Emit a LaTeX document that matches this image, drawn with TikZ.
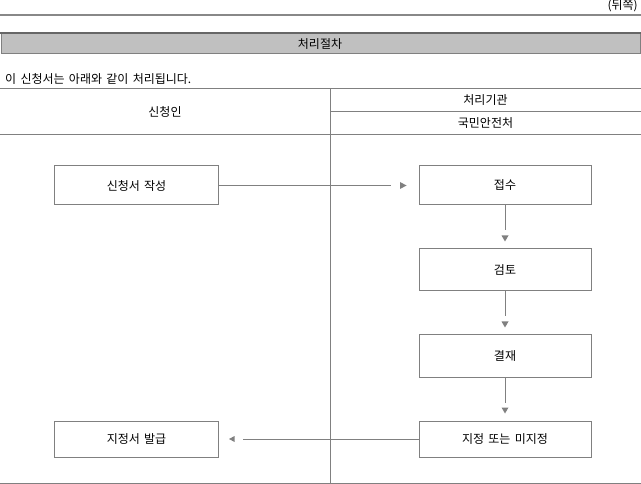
\documentclass[tikz,border=0pt]{standalone}
\usepackage{fontspec}
\setmainfont{Noto Sans CJK KR}[WordSpace={1.6}]
\definecolor{linegray}{HTML}{808080}
\definecolor{topgray}{HTML}{888888}
\definecolor{darkgray}{HTML}{666666}
\definecolor{bandgray}{HTML}{C0C0C0}
\begin{document}
\begin{tikzpicture}[x=1pt,y=-1pt,
  txt/.style={font=\fontsize{12pt}{14pt}\selectfont, inner sep=0pt},
  stepbox/.style={draw=linegray, line width=1pt, inner sep=0pt, font=\fontsize{12pt}{14pt}\selectfont},
  leftbox/.style={stepbox, minimum width=164pt},
  rightbox/.style={stepbox, minimum width=172pt},
  conn/.style={draw=linegray, line width=1pt},
  tipc/.style={fill=linegray},
  rule/.style={draw=linegray, line width=1pt}]
\useasboundingbox (0,0) rectangle (641,484);
% header rules and band
\draw[topgray, line width=2pt] (0,15) -- (641,15);
\filldraw[fill=bandgray, draw=linegray, line width=1pt] (1,34) rectangle (640,54);
\draw[darkgray, line width=2pt] (0,33) -- (641,33);
\node[txt, anchor=east] (back) at (638,5.5) {(뒤쪽)};
\node[txt] (title) at (320,44) {처리절차};
\node[txt, anchor=west] (intro) at (5,79) {이 신청서는 아래와 같이 처리됩니다.};
% table
\draw[rule] (0,89) -- (641,89);
\draw[rule] (330,112) -- (641,112);
\draw[rule] (0,135) -- (641,135);
\draw[rule] (0,483) -- (641,483);
\draw[rule] (330,89) -- (330,483);
\node[txt] (applicant) at (165,112) {신청인};
\node[txt] (agency) at (485.5,100.5) {처리기관};
\node[txt] (ministry) at (485.5,123.5) {국민안전처};
% boxes
\node[leftbox, minimum height=39pt] (write) at (136.5,185.5) {신청서 작성};
\node[rightbox, minimum height=39pt] (recv) at (505,185.5) {접수};
\node[rightbox, minimum height=42pt] (review) at (505,270) {검토};
\node[rightbox, minimum height=42pt] (approve) at (505,356) {결재};
\node[rightbox, minimum height=36pt] (decide) at (505,439) {지정 또는 미지정};
\node[leftbox, minimum height=36pt] (issue) at (136.5,439) {지정서 발급};
% connectors
\draw[conn] (write.east) -- ([xshift=-28pt]recv.west);
\fill[tipc] ([xshift=-12pt]recv.west) -- ++(-6.5,-3.5) -- ++(0,7) -- cycle;
\draw[conn] (recv.south) -- ([yshift=18pt]review.north);
\fill[tipc] ([yshift=7pt]review.north) -- ++(-3.5,-6) -- ++(7,0) -- cycle;
\draw[conn] (review.south) -- ([yshift=18pt]approve.north);
\fill[tipc] ([yshift=7pt]approve.north) -- ++(-3.5,-6) -- ++(7,0) -- cycle;
\draw[conn] (approve.south) -- ([yshift=18pt]decide.north);
\fill[tipc] ([yshift=7pt]decide.north) -- ++(-3.5,-6) -- ++(7,0) -- cycle;
\draw[conn] (decide.west) -- ([xshift=24pt]issue.east);
\fill[tipc] ([xshift=10pt]issue.east) -- ++(5.5,-3) -- ++(0,6) -- cycle;
\end{tikzpicture}
\end{document}
